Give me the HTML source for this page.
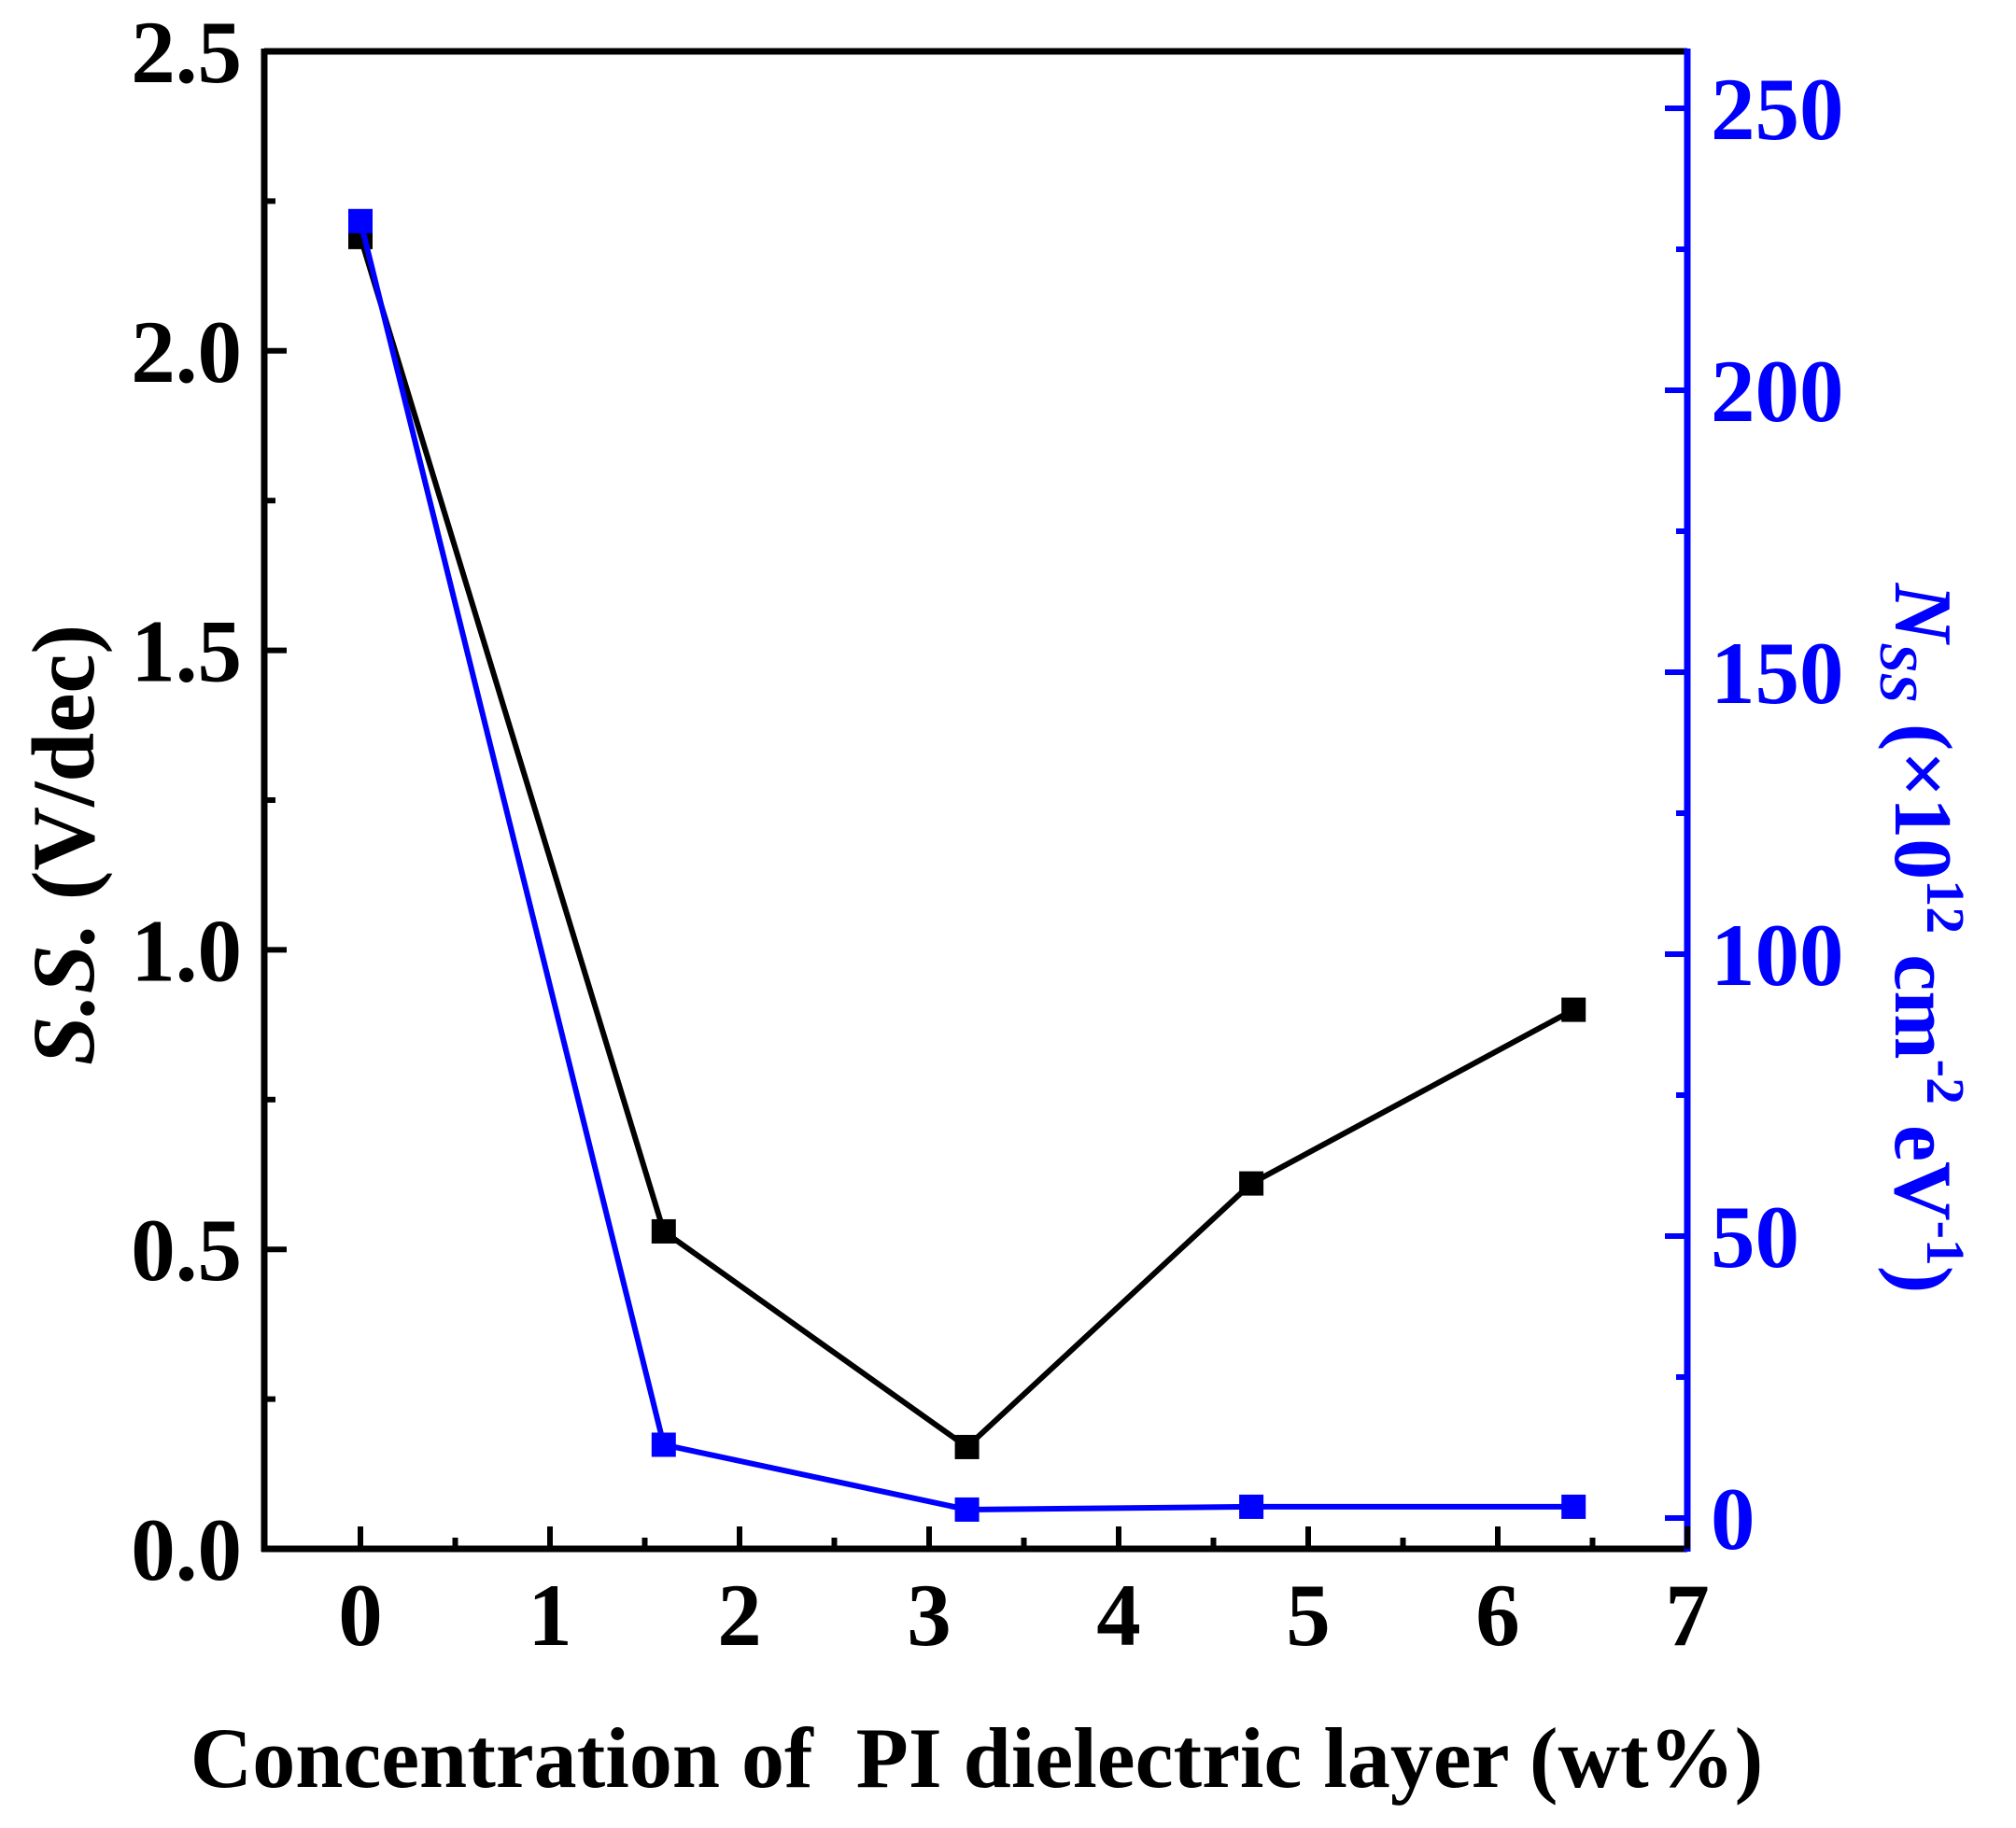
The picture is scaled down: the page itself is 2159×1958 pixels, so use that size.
<!DOCTYPE html>
<html><head><meta charset="utf-8"><style>
body{margin:0;background:#fff}
svg text{font-family:"Liberation Serif",serif;font-weight:bold}
</style></head><body>
<svg width="2159" height="1953" viewBox="0 0 2159 1953" xmlns="http://www.w3.org/2000/svg">
<g id="g"></g>
<text x="1046" y="1914" font-size="92" text-anchor="middle">Concentration of&#160; PI dielectric layer (wt%)</text>
<text transform="translate(100,905) rotate(-90)" font-size="95" text-anchor="middle"><tspan font-style="italic">S.S.</tspan> (V/dec)</text>
<text transform="translate(2030,1005) rotate(90)" font-size="88" text-anchor="middle" fill="#0000ff"><tspan font-style="italic">N</tspan><tspan font-style="italic" font-size="58" dy="16">SS</tspan><tspan dy="-16"> (×10</tspan><tspan font-size="58" dy="-34">12</tspan><tspan dy="34"> cm</tspan><tspan font-size="58" dy="-34">-2</tspan><tspan dy="34"> eV</tspan><tspan font-size="58" dy="-34">-1</tspan><tspan dy="34">)</tspan></text>
</svg>
<script>
const xVals=[0,1.6,3.2,4.7,6.4];
const ssVals=[2.19,0.53,0.17,0.61,0.90];
const nssVals=[230,13,1.5,2,2];
const xTicks=[0,1,2,3,4,5,6,7];
const leftTicks=["0.0","0.5","1.0","1.5","2.0","2.5"];
const rightTicks=[0,50,100,150,200,250];
const L=283,R=1807,T=55,B=1659;
const X=v=>386+v*203;
const YL=v=>B-v*(B-T)/2.5;
const YR=v=>1626-v*302/50;
const g=document.getElementById('g');
const NS='http://www.w3.org/2000/svg';
function mk(t,a,name,par){const e=document.createElementNS(NS,t);for(const k in a)e.setAttribute(k,a[k]);


(par||g).appendChild(e);return e;}
mk('line',{x1:L,y1:T,x2:R,y2:T,stroke:'#000','stroke-width':7},'top-axis');
mk('line',{x1:L,y1:T-3,x2:L,y2:B+3,stroke:'#000','stroke-width':7},'left-y-axis');
mk('line',{x1:L-3,y1:B,x2:R,y2:B,stroke:'#000','stroke-width':7},'x-axis');
mk('line',{x1:R,y1:T-3,x2:R,y2:B+3,stroke:'#0000ff','stroke-width':7},'right-y-axis');
for(let i=0;i<=14;i++){const v=i*0.5,x=X(v);if(x>R)break;
mk('line',{x1:x,y1:B,x2:x,y2:B-(i%2?12:24),stroke:'#000','stroke-width':6},'x-tick');}
xTicks.forEach(v=>{const t=mk('text',{x:X(v),y:1762,'font-size':95,'text-anchor':'middle'},'x-tick-label');t.textContent=v;});
for(let i=0;i<=10;i++){const y=YL(i*0.25);mk('line',{x1:L,y1:y,x2:L+(i%2?12:24),y2:y,stroke:'#000','stroke-width':6},'left-y-tick');}
leftTicks.forEach(s=>{const t=mk('text',{x:259,y:YL(+s)+33,'font-size':95,'text-anchor':'end'},'left-y-tick-label');t.textContent=s;});
for(let i=0;i<=10;i++){const y=YR(i*25);if(y<T)break;mk('line',{x1:R,y1:y,x2:R-(i%2?12:24),y2:y,stroke:'#0000ff','stroke-width':6},'right-y-tick');}
rightTicks.forEach(v=>{const t=mk('text',{x:1832,y:YR(v)+33,'font-size':95,fill:'#0000ff'},'right-y-tick-label');t.textContent=v;});
function series(vals,Y,col,name){
mk('polyline',{points:xVals.map((x,i)=>X(x)+','+Y(vals[i])).join(' '),fill:'none',stroke:col,'stroke-width':6},name+'-line');
xVals.forEach((x,i)=>mk('rect',{x:X(x)-13,y:Y(vals[i])-13,width:26,height:26,fill:col},name+'-marker'));}
series(ssVals,YL,'#000','ss');
series(nssVals,YR,'#0000ff','nss');
</script>
</body></html>
